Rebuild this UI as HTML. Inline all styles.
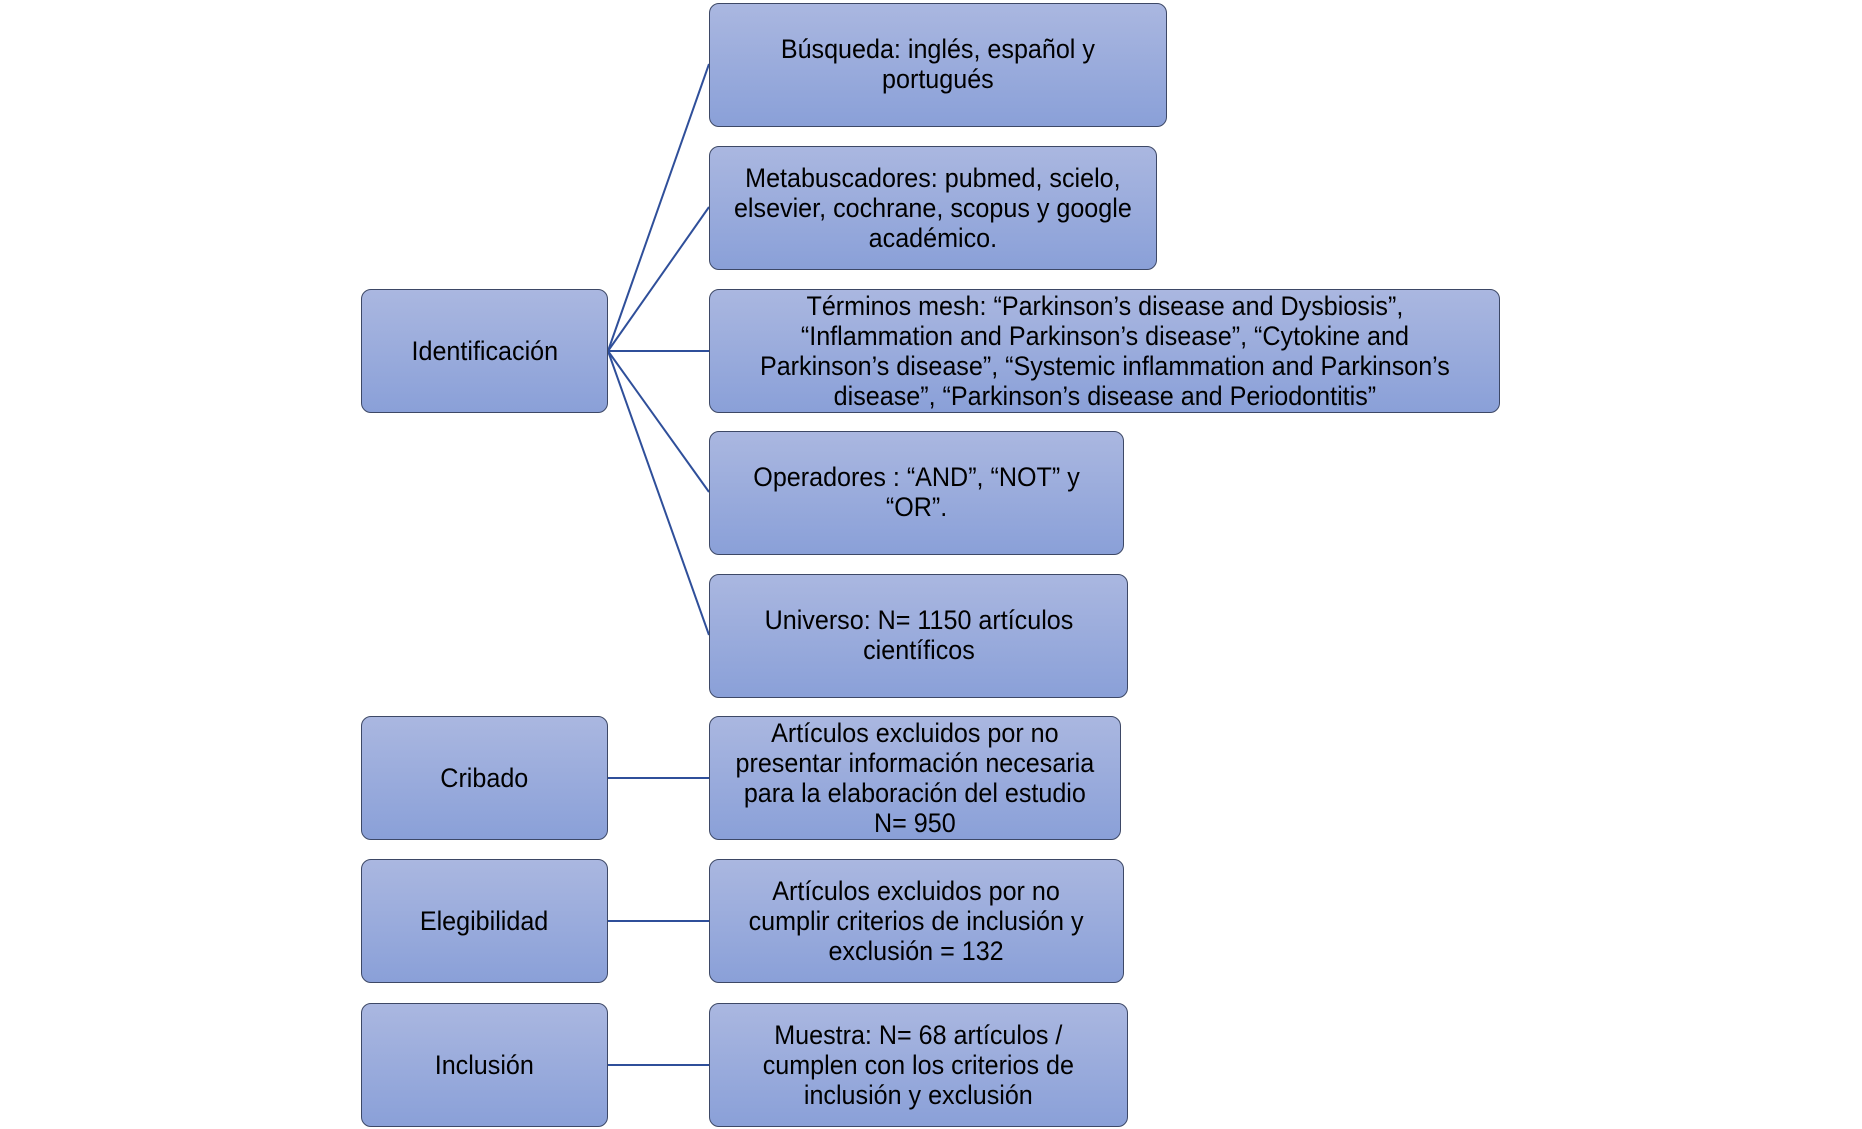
<!DOCTYPE html>
<html><head><meta charset="utf-8"><style>
body{margin:0;width:1862px;height:1129px;background:#fff;position:relative;overflow:hidden;font-family:"Liberation Sans",sans-serif;}
.b{position:absolute;box-sizing:border-box;border:1.5px solid #3d4866;border-radius:10px;background:linear-gradient(#aab7e0,#8aa0d8);display:flex;align-items:center;justify-content:center;text-align:center;color:#000;}
.b span{display:inline-block;font-size:27px;line-height:30px;transform:scaleX(0.93);white-space:nowrap;}
svg{position:absolute;left:0;top:0;}
</style></head><body>
<svg width="1862" height="1129"><g stroke="#2f4f9a" stroke-width="2" fill="none">
<line x1="608" y1="351" x2="709" y2="64"/>
<line x1="608" y1="351" x2="709" y2="207"/>
<line x1="608" y1="351" x2="709" y2="351"/>
<line x1="608" y1="351" x2="709" y2="492"/>
<line x1="608" y1="351" x2="709" y2="635"/>
<line x1="608" y1="778" x2="709" y2="778"/>
<line x1="608" y1="921" x2="709" y2="921"/>
<line x1="608" y1="1065" x2="709" y2="1065"/>
</g></svg>
<div class="b" style="left:361px;top:289px;width:247px;height:124px"><span>Identificación</span></div>
<div class="b" style="left:361px;top:716px;width:247px;height:124px"><span>Cribado</span></div>
<div class="b" style="left:361px;top:859px;width:247px;height:124px"><span>Elegibilidad</span></div>
<div class="b" style="left:361px;top:1003px;width:247px;height:124px"><span>Inclusión</span></div>

<div class="b" style="left:709px;top:3px;width:458px;height:124px;align-items:flex-start;padding-top:30px"><span>Búsqueda: inglés, español y<br>portugués</span></div>
<div class="b" style="left:709px;top:146px;width:448px;height:124px"><span>Metabuscadores: pubmed, scielo,<br>elsevier, cochrane, scopus y google<br>académico.</span></div>
<div class="b" style="left:709px;top:289px;width:791px;height:124px"><span>Términos mesh: “Parkinson’s disease and Dysbiosis”,<br>“Inflammation and Parkinson’s disease”, “Cytokine and<br>Parkinson’s disease”, “Systemic inflammation and Parkinson’s<br>disease”, “Parkinson’s disease and Periodontitis”</span></div>
<div class="b" style="left:709px;top:431px;width:415px;height:124px;align-items:flex-start;padding-top:30px"><span>Operadores : “AND”, “NOT” y<br>“OR”.</span></div>
<div class="b" style="left:709px;top:574px;width:419px;height:124px;align-items:flex-start;padding-top:30px"><span>Universo: N= 1150 artículos<br>científicos</span></div>
<div class="b" style="left:709px;top:716px;width:412px;height:124px"><span>Artículos excluidos por no<br>presentar información necesaria<br>para la elaboración del estudio<br>N= 950</span></div>
<div class="b" style="left:709px;top:859px;width:415px;height:124px"><span>Artículos excluidos por no<br>cumplir criterios de inclusión y<br>exclusión = 132</span></div>
<div class="b" style="left:709px;top:1003px;width:419px;height:124px"><span>Muestra: N= 68 artículos /<br>cumplen con los criterios de<br>inclusión y exclusión</span></div>
</body></html>
